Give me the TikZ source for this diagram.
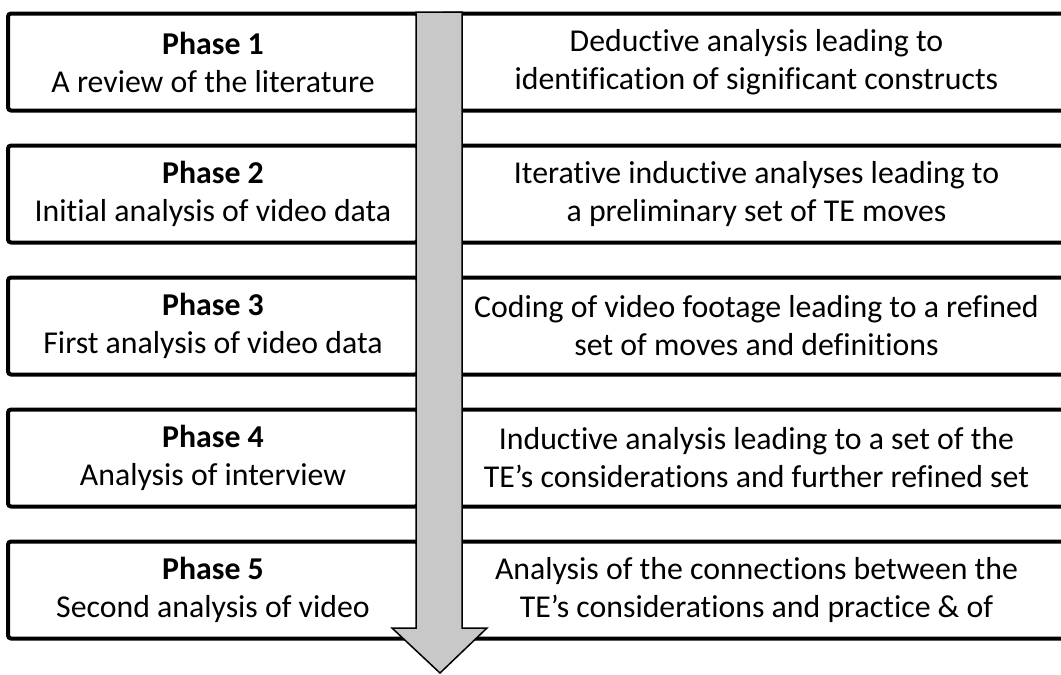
\documentclass[tikz,border=0pt]{standalone}
\usepackage{fontspec}
\setmainfont[Ligatures=NoCommon]{Carlito}
\usetikzlibrary{positioning}

\definecolor{arrowgray}{RGB}{200,200,200}

\tikzset{
	box/.style={draw=black, line width=2pt, rounded corners=1.5pt, fill=white, align=center, inner sep=0pt, minimum height=48.5pt, font=\fontsize{15.9pt}{19pt}\selectfont},
	phase/.style={box, minimum width=205pt},
	result/.style={box, minimum width=315.5pt},
	flow/.style={draw=black, line width=0.75pt, fill=arrowgray, line join=miter}
}

\begin{document}
\begin{tikzpicture}[x=0.5pt, y=-0.5pt]
	\useasboundingbox (0,0) rectangle (1061,675);
	\clip (0,0) rectangle (1061,675);
	\node[phase] (p1) at (213,62) {\textbf{Phase 1}\\A review of the literature};
	\node[phase, below = 15.5pt of p1] (p2) {\textbf{Phase 2}\\Initial analysis of video data};
	\node[phase, below = 15.5pt of p2] (p3) {\textbf{Phase 3}\\First analysis of video data};
	\node[phase, below = 15.5pt of p3] (p4) {\textbf{Phase 4}\\Analysis of interview};
	\node[phase, below = 15.5pt of p4] (p5) {\textbf{Phase 5}\\Second analysis of video};
	\node[result, right = 9.5pt of p1] (r1) {Deductive analysis leading to\\identification of significant constructs};
	\node[result, right = 9.5pt of p2] (r2) {Iterative inductive analyses leading to\\a preliminary set of TE moves};
	\node[result, right = 9.5pt of p3] (r3) {Coding of video footage leading to a refined\\set of moves and definitions};
	\node[result, right = 9.5pt of p4] (r4) {Inductive analysis leading to a set of the\\TE’s considerations and further refined set};
	\node[result, right = 9.5pt of p5] (r5) {Analysis of the connections between the\\TE’s considerations and practice \& of};
	\coordinate (top) at (439,12);
	\coordinate (tip) at (440,673);
	\draw[flow] (top) ++(-23,0) -- ++(46,0) -- (462,628) -- (487,628) -- (tip) -- (392,628) -- (416,628) -- cycle;
\end{tikzpicture}
\end{document}
